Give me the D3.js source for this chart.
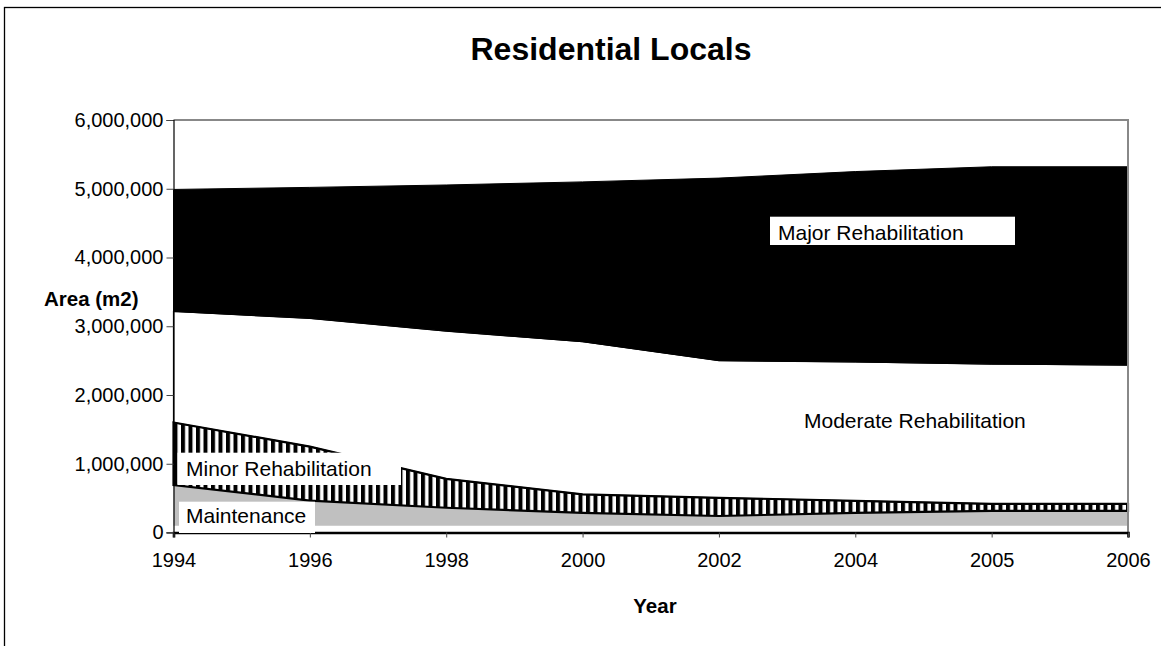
<!DOCTYPE html>
<html>
<head>
<meta charset="utf-8">
<script src="https://cdn.jsdelivr.net/npm/d3@7"></script>
<style>
  html, body { margin: 0; padding: 0; background: #fff; }
  svg { display: block; font-family: "Liberation Sans", Arial, sans-serif; }
</style>
</head>
<body>
<svg id="chart" width="1161" height="646"></svg>
<script>
// Survey years (category axis, evenly spaced)
const years = ["1994", "1996", "1998", "2000", "2002", "2004", "2005", "2006"];

// Floor area by intervention type, m2
const otherArea     = [100000, 100000, 100000, 100000, 100000, 100000, 100000, 100000]; // unlabelled white band
const maintenance   = [590000, 365000, 260000, 185000, 140000, 185000, 215000, 215000];
const minorRehab    = [910000, 785000, 420000, 270000, 265000, 175000, 100000, 100000];
const moderateRehab = [1615000, 1865000, 2150000, 2220000, 1995000, 2020000, 2035000, 2020000];
const majorRehab    = [1775000, 1905000, 2125000, 2325000, 2655000, 2770000, 2870000, 2885000];

const yTicks = [0, 1000000, 2000000, 3000000, 4000000, 5000000, 6000000];

const keys = ["other", "maintenance", "minor", "moderate", "major"];
const rows = years.map((yr, i) => ({
  year: yr,
  other: otherArea[i],
  maintenance: maintenance[i],
  minor: minorRehab[i],
  moderate: moderateRehab[i],
  major: majorRehab[i]
}));

const svg = d3.select("#chart");

const plotLeft = 173.5, plotRight = 1128, plotTop = 120, plotBottom = 532.5;

const x = d3.scalePoint().domain(years).range([plotLeft, plotRight]);
const y = d3.scaleLinear().domain([0, 6000000]).range([plotBottom, plotTop]);

// Outer chart frame
svg.append("rect")
  .attr("x", 4.5).attr("y", 7.5)
  .attr("width", 1200).attr("height", 700)
  .attr("fill", "#fff").attr("stroke", "#000").attr("stroke-width", 1.3);

// Vertical stripe pattern for minor rehabilitation
const defs = svg.append("defs");
const pat = defs.append("pattern")
  .attr("id", "vstripe")
  .attr("patternUnits", "userSpaceOnUse")
  .attr("x", plotLeft)
  .attr("width", 7.5).attr("height", 10);
pat.append("rect").attr("width", 7.5).attr("height", 10).attr("fill", "#fff");
pat.append("rect").attr("x", 0).attr("width", 4).attr("height", 10).attr("fill", "#000");

const stack = d3.stack().keys(keys);
const series = stack(rows);

const area = d3.area()
  .x(d => x(d.data.year))
  .y0(d => y(d[0]))
  .y1(d => y(d[1]));

const fills = {
  other: "#fff",
  maintenance: "#c0c0c0",
  minor: "url(#vstripe)",
  moderate: "#fff",
  major: "#000"
};

const g = svg.append("g");
g.selectAll("path.fill")
  .data(series)
  .join("path")
  .attr("class", "fill")
  .attr("d", area)
  .attr("fill", d => fills[d.key])
  .attr("stroke", "none");

// Outlines of the bordered series
const outlined = { moderate: 1.2, major: 1, minor: 2.2 };
g.selectAll("path.edge")
  .data(series.filter(s => outlined[s.key]))
  .join("path")
  .attr("class", "edge")
  .attr("d", area)
  .attr("fill", "none")
  .attr("stroke", "#000")
  .attr("stroke-width", d => outlined[d.key])
  .attr("stroke-linejoin", "miter");

// Plot area frame (top and right)
svg.append("path")
  .attr("d", `M${plotLeft},${plotTop}H${plotRight}V${plotBottom}`)
  .attr("fill", "none")
  .attr("stroke", "#888")
  .attr("stroke-width", 2);

// X axis
const xAxis = d3.axisBottom(x).tickSize(5).tickPadding(15);
const gx = svg.append("g")
  .attr("transform", `translate(0,${plotBottom})`)
  .call(xAxis);
gx.select(".domain").attr("stroke", "#000").attr("stroke-width", 2.6);
gx.selectAll(".tick line").attr("stroke", "#444").attr("stroke-width", 1);
gx.selectAll(".tick text")
  .attr("font-size", 20)
  .attr("fill", "#000")
  .attr("font-family", "Liberation Sans, Arial, sans-serif");

// Y axis
const yAxis = d3.axisLeft(y).tickValues(yTicks).tickSize(7).tickPadding(3)
  .tickFormat(d3.format(","));
const gy = svg.append("g")
  .attr("transform", `translate(${plotLeft},0)`)
  .call(yAxis);
gy.select(".domain").attr("stroke", "#000").attr("stroke-width", 1.2);
gy.selectAll(".tick line").attr("stroke", "#444");
gy.selectAll(".tick text")
  .attr("font-size", 20)
  .attr("fill", "#000")
  .attr("font-family", "Liberation Sans, Arial, sans-serif");

// Series labels
function boxLabel(text, bx, by, bw, bh, tx, ty) {
  if (bw > 0) {
    svg.append("rect")
      .attr("x", bx).attr("y", by).attr("width", bw).attr("height", bh)
      .attr("fill", "#fff");
  }
  svg.append("text")
    .attr("x", tx).attr("y", ty)
    .attr("font-size", 21)
    .attr("fill", "#000")
    .text(text);
}
boxLabel("Major Rehabilitation", 770, 216.7, 245, 28.3, 778, 240);
boxLabel("Moderate Rehabilitation", 0, 0, 0, 0, 804, 428);
boxLabel("Minor Rehabilitation", 177.5, 452.7, 223.5, 32.3, 186, 475.5);
boxLabel("Maintenance", 179, 501.7, 136, 31.3, 186, 523.3);

// Zero tick redrawn over the label box
svg.append("line")
  .attr("x1", 166.5).attr("x2", plotLeft)
  .attr("y1", plotBottom).attr("y2", plotBottom)
  .attr("stroke", "#444");

// Titles
svg.append("text")
  .attr("x", 611).attr("y", 60)
  .attr("text-anchor", "middle")
  .attr("font-size", 32).attr("font-weight", "bold")
  .text("Residential Locals");

svg.append("text")
  .attr("x", 44).attr("y", 306)
  .attr("font-size", 20.5).attr("font-weight", "bold")
  .text("Area (m2)");

svg.append("text")
  .attr("x", 655).attr("y", 613)
  .attr("text-anchor", "middle")
  .attr("font-size", 20.5).attr("font-weight", "bold")
  .text("Year");
</script>
</body>
</html>
